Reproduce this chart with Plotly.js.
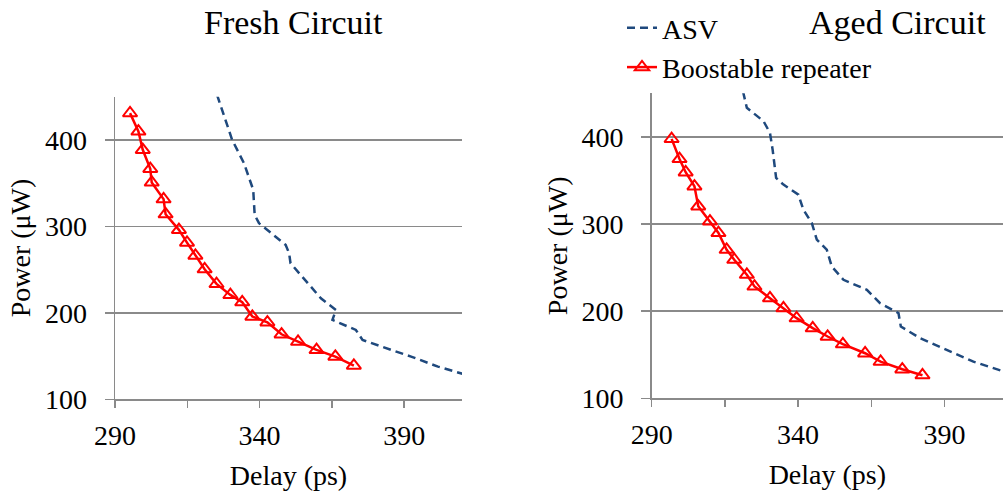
<!DOCTYPE html>
<html>
<head>
<meta charset="utf-8">
<script src="https://cdn.plot.ly/plotly-3.0.1.min.js"></script>
<style>
  html, body { margin: 0; padding: 0; background: #ffffff; }
  #chart { width: 1003px; height: 499px; }
</style>
</head>
<body>
<div id="chart"></div>
<script>
// ---- Data ----
const chartTitles = ['Fresh Circuit', 'Aged Circuit'];
const seriesNames = ['ASV', 'Boostable repeater'];

// Fresh circuit
const freshAsvDelay = [325.3, 330.5, 334.6, 337.8, 338.3, 339.8, 349.0, 350.2, 350.7, 361.2, 366.4, 365.2, 373.3, 375.6, 385.5, 392.4, 401.7, 411.5];
const freshAsvPower = [452.0, 400.2, 373.1, 342.3, 313.3, 303.7, 278.6, 269.0, 257.4, 216.9, 203.4, 191.8, 180.2, 168.7, 157.1, 149.4, 137.8, 128.2];
const freshBoostDelay = [295.2, 298.1, 299.6, 302.2, 302.7, 306.8, 307.5, 312.1, 314.9, 317.8, 321.0, 325.1, 329.9, 334.0, 337.5, 342.7, 347.6, 353.3, 359.7, 366.2, 372.6];
const freshBoostPower = [431.0, 409.8, 388.6, 366.6, 350.8, 331.5, 314.1, 296.0, 281.3, 266.3, 250.5, 233.5, 220.8, 212.3, 195.7, 189.1, 175.2, 166.7, 157.1, 149.4, 139.0];

// Aged circuit
const agedAsvDelay = [321.2, 322.5, 328.2, 330.4, 331.3, 332.5, 335.0, 340.1, 341.8, 344.7, 346.4, 349.8, 351.5, 355.5, 363.5, 368.0, 374.3, 375.1, 381.7, 389.7, 399.9, 410.5];
const agedAsvPower = [452.0, 433.3, 418.0, 404.6, 385.4, 352.9, 345.2, 333.7, 316.5, 301.1, 282.0, 270.5, 251.3, 236.0, 224.5, 209.2, 197.7, 182.4, 169.0, 157.5, 142.1, 130.5];
const agedBoostDelay = [296.8, 299.5, 301.6, 304.6, 305.9, 309.9, 312.8, 315.6, 318.2, 322.5, 325.1, 330.4, 335.0, 339.5, 345.0, 350.1, 355.3, 362.9, 368.2, 375.6, 382.5];
const agedBoostPower = [397.7, 374.7, 359.4, 343.3, 320.3, 303.1, 289.7, 270.5, 259.0, 241.8, 228.4, 214.9, 203.4, 192.0, 180.5, 170.9, 162.1, 151.7, 142.1, 133.3, 126.5];

// Axis text
const xAxisTitle = 'Delay (ps)';
const yAxisTitle = 'Power (\u03bcW)';
const xRange = [290, 410];
const yRange = [100, 450];

// ---- Styles ----
const FONT = '"Liberation Serif", "Times New Roman", Times, serif';
const GRID = '#8a8a8a';
const asvColor = '#1F497D';
const boostColor = '#FF0000';

function asvTrace(x, y, xa, ya, show) {
  return {
    type: 'scatter', mode: 'lines', name: seriesNames[0],
    x: x, y: y, xaxis: xa, yaxis: ya, showlegend: show, legendgroup: 'asv',
    line: { color: asvColor, width: 2.5, dash: '8px,5px' }
  };
}
function boostTrace(x, y, xa, ya, show) {
  return {
    type: 'scatter', mode: 'lines+markers', name: seriesNames[1],
    x: x, y: y, xaxis: xa, yaxis: ya, showlegend: show, legendgroup: 'boost',
    line: { color: boostColor, width: 2.5 },
    marker: { symbol: 'triangle-up-open', size: 12.5, color: boostColor, line: { color: boostColor, width: 2 } },
    cliponaxis: false
  };
}

const data = [
  asvTrace(freshAsvDelay, freshAsvPower, 'x', 'y', true),
  boostTrace(freshBoostDelay, freshBoostPower, 'x', 'y', true),
  asvTrace(agedAsvDelay, agedAsvPower, 'x2', 'y2', false),
  boostTrace(agedBoostDelay, agedBoostPower, 'x2', 'y2', false)
];

function xAxis(domain, anchor) {
  return {
    domain: domain, anchor: anchor, range: xRange, autorange: false,
    tick0: 290, dtick: 50, ticks: 'outside', ticklen: 7, tickwidth: 1.5, tickcolor: GRID,
    minor: { tick0: 290, dtick: 25, ticks: 'outside', ticklen: 7, tickwidth: 1.5, tickcolor: GRID, showgrid: false },
    showgrid: false, zeroline: false, showline: true, linecolor: GRID, linewidth: 1.5,
    tickfont: { family: FONT, size: 28, color: '#000' },
    ticklabelstandoff: 4,
    title: { text: xAxisTitle, font: { family: FONT, size: 28, color: '#000' }, standoff: 15 },
    automargin: false, fixedrange: true
  };
}
function yAxis(domain, anchor) {
  return {
    domain: domain, anchor: anchor, range: yRange, autorange: false,
    tick0: 100, dtick: 100, ticks: 'outside', ticklen: 9, tickwidth: 1.5, tickcolor: GRID,
    showgrid: true, gridcolor: GRID, gridwidth: 1.5,
    zeroline: false, showline: true, linecolor: GRID, linewidth: 1.5,
    tickfont: { family: FONT, size: 28, color: '#000' },
    ticklabelstandoff: 12,
    title: { text: yAxisTitle, font: { family: FONT, size: 28, color: '#000' }, standoff: 6 },
    automargin: false, fixedrange: true
  };
}

const layout = {
  width: 1003, height: 499,
  margin: { l: 0, r: 0, t: 0, b: 0, pad: 0 },
  paper_bgcolor: '#ffffff', plot_bgcolor: '#ffffff',
  font: { family: FONT, size: 28, color: '#000' },
  xaxis: xAxis([115 / 1003, 462 / 1003], 'y'),
  yaxis: yAxis([1 - 399.3 / 499, 1 - 96.7 / 499], 'x'),
  xaxis2: xAxis([651.7 / 1003, 1], 'y2'),
  yaxis2: yAxis([1 - 398.3 / 499, 1 - 93.3 / 499], 'x2'),
  showlegend: true,
  legend: {
    x: 622 / 1003, y: 1 - 3 / 499, xanchor: 'left', yanchor: 'top',
    orientation: 'v', bgcolor: 'rgba(0,0,0,0)', borderwidth: 0,
    font: { family: FONT, size: 28, color: '#000' },
    tracegroupgap: 0, traceorder: 'normal'
  },
  annotations: [
    { text: chartTitles[0], xref: 'paper', yref: 'paper', x: 293 / 1003, y: 1 - 22 / 499,
      xanchor: 'center', yanchor: 'middle', showarrow: false, font: { family: FONT, size: 34, color: '#000' } },
    { text: chartTitles[1], xref: 'paper', yref: 'paper', x: 897.5 / 1003, y: 1 - 22 / 499,
      xanchor: 'center', yanchor: 'middle', showarrow: false, font: { family: FONT, size: 34, color: '#000' } }
  ]
};

Plotly.newPlot('chart', data, layout, { displayModeBar: false, staticPlot: true });
</script>
</body>
</html>
